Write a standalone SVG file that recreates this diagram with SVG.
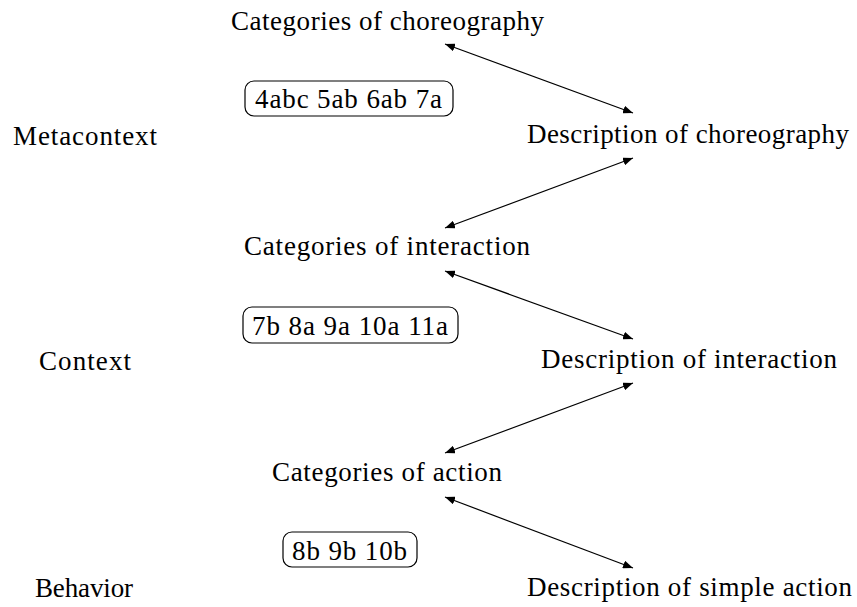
<svg xmlns="http://www.w3.org/2000/svg" width="857" height="607" viewBox="0 0 857 607">
<defs>
<style>
text{font-family:"Liberation Serif","DejaVu Serif",serif;font-size:27px;fill:#000}
.box{fill:none;stroke:#000;stroke-width:1.2}
.conn line{stroke:#000;stroke-width:1.2;marker-start:url(#ah);marker-end:url(#ah)}
</style>
<marker id="ah" viewBox="0 0 10 8" refX="10" refY="4" markerWidth="10" markerHeight="8" markerUnits="userSpaceOnUse" orient="auto-start-reverse">
<path d="M0,0 L10,4 L0,8 Z" fill="#000"/>
</marker>
</defs>
<rect width="857" height="607" fill="#fff"/>
<g id="cat-choreo"><text x="231" y="30" textLength="313">Categories of choreography</text></g>
<g id="box1"><rect class="box" x="245" y="81" width="208" height="35" rx="9"/><text x="255" y="108" textLength="187">4abc 5ab 6ab 7a</text></g>
<g id="metacontext"><text x="13" y="145" textLength="144">Metacontext</text></g>
<g id="desc-choreo"><text x="527" y="143" textLength="322">Description of choreography</text></g>
<g id="cat-inter"><text x="244" y="255" textLength="286">Categories of interaction</text></g>
<g id="box2"><rect class="box" x="243" y="307" width="215" height="36" rx="9"/><text x="252" y="335" textLength="196">7b 8a 9a 10a 11a</text></g>
<g id="context"><text x="39" y="370" textLength="92">Context</text></g>
<g id="desc-inter"><text x="541" y="368" textLength="296">Description of interaction</text></g>
<g id="cat-action"><text x="272" y="481" textLength="230">Categories of action</text></g>
<g id="box3"><rect class="box" x="283" y="532" width="134" height="35" rx="9"/><text x="292" y="560" textLength="115">8b 9b 10b</text></g>
<g id="behavior"><text x="35" y="597" textLength="98">Behavior</text></g>
<g id="desc-action"><text x="527" y="596" textLength="325">Description of simple action</text></g>
<g class="conn" id="connectors">
<line x1="445" y1="44" x2="633" y2="113"/>
<line x1="633" y1="158" x2="445" y2="228"/>
<line x1="445" y1="271" x2="633" y2="339"/>
<line x1="633" y1="383" x2="445" y2="453"/>
<line x1="445" y1="497" x2="633" y2="568"/>
</g>
</svg>
